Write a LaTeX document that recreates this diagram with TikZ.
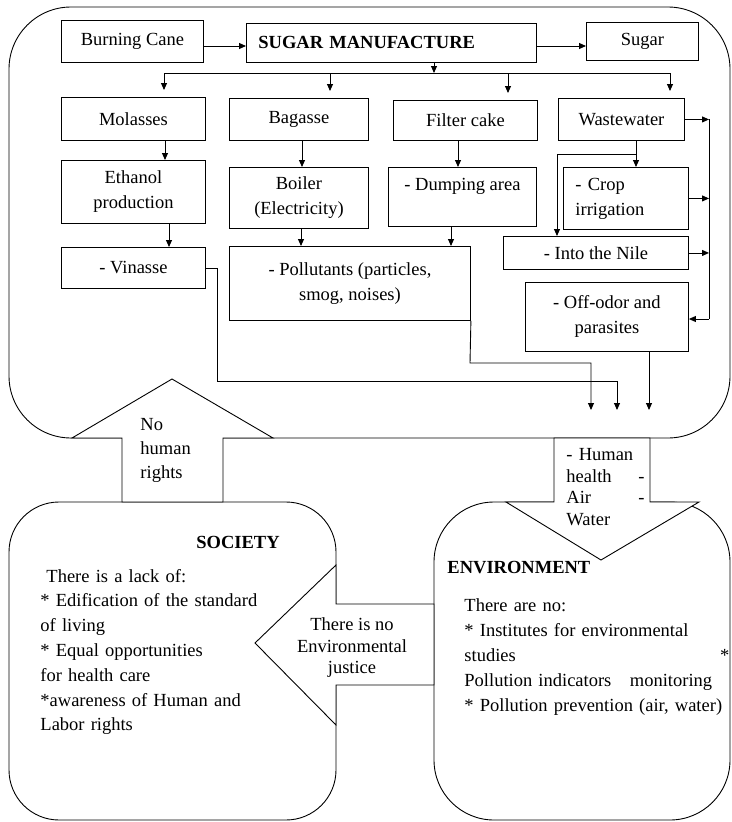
\documentclass[tikz,border=0pt]{standalone}
\usepackage{fontspec}
\setmainfont{Liberation Serif}
\usetikzlibrary{arrows.meta,calc,positioning}
\newcommand{\pushright}{\hspace{0pt plus 1filll}}

\begin{document}
\begin{tikzpicture}[x=1pt,y=-1pt,line width=0.9pt,
    font=\fontsize{18.5}{25}\selectfont,
    box/.style={draw,inner sep=0pt,align=center,anchor=north west},
    txt/.style={inner sep=0pt},
    arr/.style={-{Triangle[length=7pt,width=6pt]}},
    bigarrow/.style={draw,fill=white}]
  \useasboundingbox (0,0) rectangle (731,822);
  % frames
  \draw[rounded corners=62pt] (9,7) rectangle (730,438);
  \draw[rounded corners=50pt] (9,502) rectangle (336,820);
  \draw[rounded corners=60pt] (434,502) rectangle (730,820);

  % production chain
  \node[box,minimum width=142pt,minimum height=42pt] (cane) at (61,20) {Burning Cane};
  \node[box,minimum width=290pt,minimum height=39pt,text width=266pt,align=left] (sugarman) at (246,23) {\textbf{SUGAR MANUFACTURE}};
  \node[box,minimum width=112pt,minimum height=38pt] (sugar) at (586,22) {Sugar};
  \node[box,minimum width=144pt,minimum height=43pt] (molasses) at (61,97) {Molasses};
  \node[box,minimum width=139pt,minimum height=42pt] (bagasse) at (229,98) {Bagasse};
  \node[box,minimum width=144pt,minimum height=40pt] (filter) at (393,100) {Filter cake};
  \node[box,minimum width=126pt,minimum height=42pt] (waste) at (558,98) {Wastewater};
  \node[box,minimum width=144pt,minimum height=63pt] (ethanol) at (61,160) {Ethanol\\production};
  \node[box,minimum width=139pt,minimum height=61pt] (boiler) at (229,167) {Boiler\\(Electricity)};
  \node[box,minimum width=148pt,minimum height=59pt] (dumping) at (388,167) {- Dumping area\\ ~};
  \node[box,minimum width=125pt,minimum height=62pt,text width=101pt,align=left] (crop) at (563,167) {- Crop\\irrigation};
  \node[box,minimum width=185pt,minimum height=33pt] (nile) at (503,236) {- Into the Nile};
  \node[box,minimum width=163pt,minimum height=69pt] (offodor) at (525,282) {- Off-odor and\\parasites};
  \node[box,minimum width=144pt,minimum height=41pt] (vinasse) at (61,247) {- Vinasse};
  \node[box,minimum width=241pt,minimum height=74pt] (pollut) at (229,246) {- Pollutants (particles,\\smog, noises)};

  \draw[arr] (cane.east |- 0,46) -- (sugarman.west |- 0,46);
  \draw[arr] (sugarman.east |- 0,46) -- (sugar.west |- 0,46);
  \coordinate (split) at (434,73);
  \coordinate (busL) at (164,73);
  \coordinate (busR) at (670,73);
  \draw[arr] (sugarman.south -| split) -- (split);
  \draw (busL) -- (busR);
  \foreach \x/\n in {164/molasses,330/bagasse,508/filter,670/waste}
    \draw[arr,shorten >=7pt] (\x,73) -- (\x,0 |- \n.north);

  \draw[arr] (165,0 |- molasses.south) -- (165,0 |- ethanol.north);
  \draw[arr] (302,0 |- bagasse.south) -- (302,0 |- boiler.north);
  \draw[arr] (458,0 |- filter.south) -- (458,0 |- dumping.north);
  \draw[arr] (636,0 |- waste.south) -- (636,0 |- crop.north);
  \coordinate (wbranch) at (636,154);
  \draw[arr] (wbranch) -| (557,0 |- nile.north);
  \draw[arr] (169,0 |- ethanol.south) -- (169,0 |- vinasse.north);
  \draw[arr] (301,0 |- boiler.south) -- (301,0 |- pollut.north);
  \draw[arr] (451,0 |- dumping.south) -- (451,0 |- pollut.north);

  % right collector
  \coordinate (rbTop) at (709,119);
  \coordinate (rbBot) at (709,319);
  \draw[arr] (waste.east) -- (waste.east -| rbTop);
  \draw (rbTop) -- (rbBot);
  \draw[arr] (crop.east) -- (crop.east -| rbTop);
  \draw[arr] (nile.east) -- (nile.east -| rbTop);
  \draw[arr] (rbBot) -- (rbBot -| offodor.east);

  % outlets
  \coordinate (hp) at (591,410);
  \coordinate (hv) at (617,410);
  \coordinate (ho) at (649,410);
  \draw[arr] (vinasse.east) -- ++(12,0) |- (617,381) -- (hv);
  \draw[arr] (pollut.south east) -- (470,363) -| (hp);
  \draw[arr] (649,0 |- offodor.south) -- (ho);

  % wide arrows
  \filldraw[bigarrow] (122,502) -- (122,438) -- (72,438) -- (172,379) -- (273,438) -- (223,438) -- (223,502) -- cycle;
  \filldraw[bigarrow] (554,438) -- (554,502) -- (506,502) -- (601,560) -- (699,502) -- (650,502) -- (650,438) -- cycle;
  \filldraw[bigarrow] (434,604) -- (336,604) -- (336,565) -- (255,643) -- (336,725) -- (336,685) -- (434,685) -- cycle;

  \node[txt,anchor=west,align=left,font=\fontsize{18.5}{24}\selectfont] (nohr) at (140,450) {No\\human\\rights};
  \node[txt,anchor=west,align=left,text width=78pt,font=\fontsize{18.5}{21.5}\selectfont] (hh) at (566,487) {- Human\\health\pushright -\\Air\pushright -\\Water};
  \node[txt,align=center,font=\fontsize{18.5}{21.5}\selectfont] (ej) at (352,648) {There is no\\Environmental\\justice};

  % society
  \node[txt,font=\fontsize{18.5}{25}\selectfont\bfseries] (soctitle) at (238,542) {SOCIETY};
  \node[txt,anchor=west,align=left,text width=290pt,font=\fontsize{18.5}{24.8}\selectfont] (socbody) at (40,652) {\hspace*{6pt}There is a lack of:\\{*} Edification of the standard\\of living\\{*} Equal opportunities\\for health care\\{*}awareness of Human and\\Labor rights};

  % environment
  \node[txt,anchor=west,font=\fontsize{18.5}{25}\selectfont\bfseries] (envtitle) at (447,568) {ENVIRONMENT};
  \node[txt,anchor=west,align=left,text width=265pt] (envbody) at (464,657) {There are no:\\{*} Institutes for environmental\\studies\pushright *\\Pollution indicators\quad monitoring\\{*} Pollution prevention (air, water)};
\end{tikzpicture}
\end{document}
